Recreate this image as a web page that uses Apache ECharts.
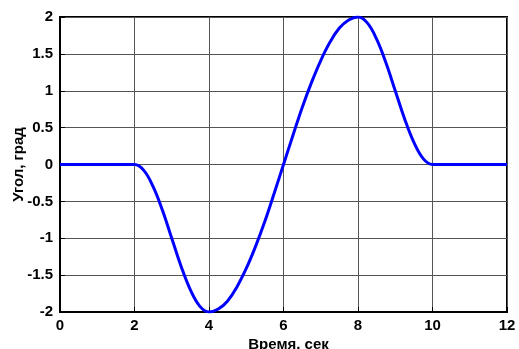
<!DOCTYPE html>
<html>
<head>
<meta charset="utf-8">
<script src="https://cdn.jsdelivr.net/npm/echarts@6/dist/echarts.min.js"></script>
<style>html,body{margin:0;padding:0;background:#fff;}#c{width:519px;height:349px;}</style>
</head>
<body>
<div id="c"></div>
<script>
var time = [0,0.5,1,1.5,2,2.25,2.5,2.75,3,3.25,3.5,3.75,4,4.25,4.5,4.75,5,5.25,5.5,5.75,6,6.25,6.5,6.75,7,7.25,7.5,7.75,8,8.25,8.5,8.75,9,9.25,9.5,9.75,10,10.5,11,11.5,12];
var angle = [0,0,0,0,0,-0.08,-0.30,-0.62,-1.0,-1.38,-1.70,-1.92,-2.0,-1.96,-1.85,-1.66,-1.41,-1.11,-0.77,-0.39,0,0.39,0.77,1.11,1.41,1.66,1.85,1.96,2.0,1.92,1.70,1.38,1.0,0.62,0.30,0.08,0,0,0,0,0];
var xTicks = {min:0, max:12, interval:2};
var yTicks = {min:-2, max:2, interval:0.5};
var xName = 'Время, сек';
var yName = 'Угол, град';

var pts = time.map(function(t,i){return [t, angle[i]];});
var font = '"Liberation Sans", Arial, sans-serif';
var chart = echarts.init(document.getElementById('c'));
chart.setOption({
  animation:false,
  grid:{left:60, right:12, top:17, bottom:37, show:true, borderColor:'#000', borderWidth:2, containLabel:false, outerBoundsMode:'none'},
  xAxis:{type:'value', min:xTicks.min, max:xTicks.max, interval:xTicks.interval,
    name:xName, nameLocation:'middle', nameGap:25, nameMoveOverlap:false,
    nameTextStyle:{fontFamily:font, fontWeight:'bold', fontSize:15, color:'#000', padding:[0,0,0,10]},
    axisLine:{show:true, onZero:false, lineStyle:{color:'#000', width:2}},
    axisTick:{show:true, inside:true, length:5, lineStyle:{color:'#000'}},
    axisLabel:{fontFamily:font, fontWeight:'bold', fontSize:15, color:'#000', margin:6},
    splitLine:{show:true, lineStyle:{color:'#555', width:1}}
  },
  yAxis:{type:'value', min:yTicks.min, max:yTicks.max, interval:yTicks.interval,
    name:yName, nameLocation:'middle', nameGap:34, nameMoveOverlap:false,
    nameTextStyle:{fontFamily:font, fontWeight:'bold', fontSize:15, color:'#000'},
    axisLine:{show:true, onZero:false, lineStyle:{color:'#000', width:2}},
    axisTick:{show:true, inside:true, length:5, lineStyle:{color:'#000'}},
    axisLabel:{fontFamily:font, fontWeight:'bold', fontSize:15, color:'#000', margin:7},
    splitLine:{show:true, lineStyle:{color:'#555', width:1}}
  },
  series:[{type:'line', data:pts, showSymbol:false, smooth:0.4,
    lineStyle:{color:'#0000ff', width:3}, itemStyle:{color:'#0000ff'}}]
});
</script>
</body>
</html>
